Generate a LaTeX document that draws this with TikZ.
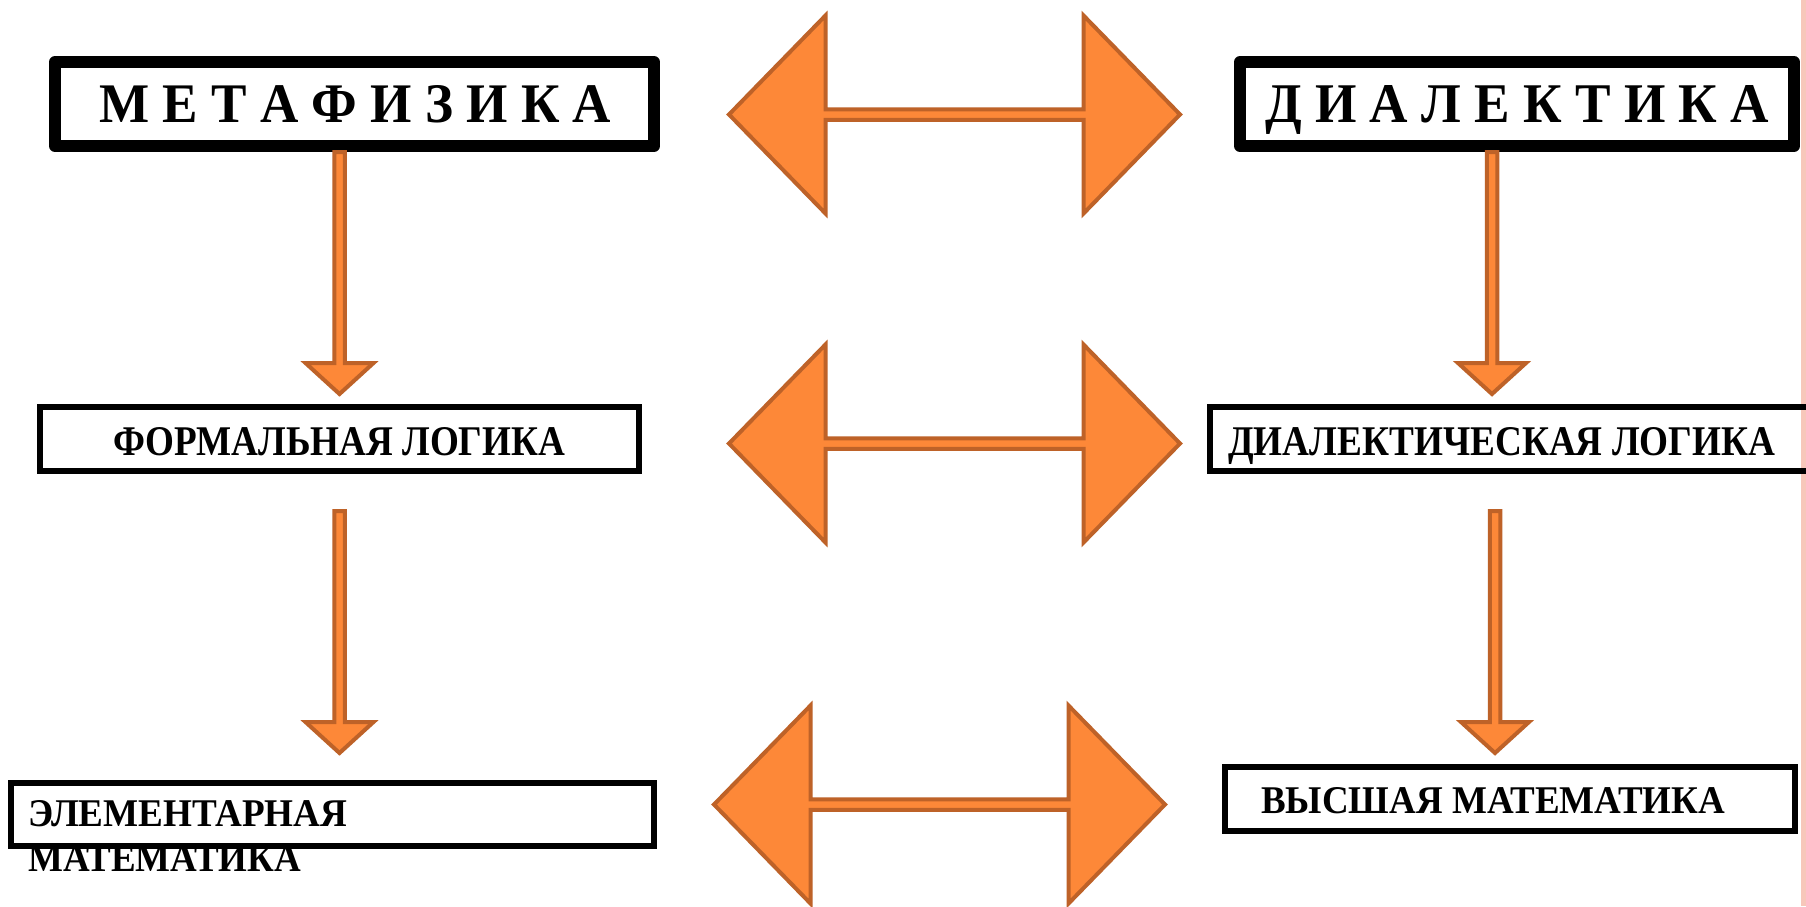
\documentclass[tikz,border=0pt]{standalone}
\usepackage{fontspec}
\setmainfont{Liberation Serif}
\usepackage{graphicx}
\usetikzlibrary{calc}
\definecolor{arrfill}{RGB}{253,136,56}
\definecolor{arrline}{RGB}{190,98,40}
\definecolor{edgepink}{RGB}{247,199,186}
\newcommand\fittext[3]{\resizebox{#1pt}{#2pt}{\bfseries #3}}
\tikzset{
  blk/.style={fill=arrfill, draw=arrline, line width=4pt, line join=miter},
  bigbox/.style={draw=black, line width=12pt, line join=round, inner sep=0pt, minimum height=84pt},
  smallbox/.style={draw=black, line width=6pt, inner sep=0pt, minimum height=64pt},
  txt/.style={inner sep=0pt, anchor=base west},
}
% vertical block arrow: #1 start (top of shaft), #2 tip
\newcommand\downarr[2]{%
  \draw[blk] let \p1=#1, \p2=#2 in
    (\x1-5.25pt,\y1) -- (\x1+5.25pt,\y1) -- (\x1+5.25pt,\y2+31pt) --
    (\x1+34pt,\y2+31pt) -- (\x1,\y2) -- (\x1-34pt,\y2+31pt) --
    (\x1-5.25pt,\y2+31pt) -- cycle;}
% horizontal double block arrow around centre #1
\newcommand\dblarr[1]{%
  \draw[blk] let \p1=(#1) in
    (\x1-225.5pt,\y1) -- (\x1-129pt,\y1+99pt) -- (\x1-129pt,\y1+5.25pt) --
    (\x1+129pt,\y1+5.25pt) -- (\x1+129pt,\y1+99pt) -- (\x1+225.5pt,\y1) --
    (\x1+129pt,\y1-99pt) -- (\x1+129pt,\y1-5.25pt) -- (\x1-129pt,\y1-5.25pt) --
    (\x1-129pt,\y1-99pt) -- cycle;}
\begin{document}
\begin{tikzpicture}[x=1pt,y=-1pt]
\useasboundingbox (0,0) rectangle (1806,906);
\fill[white] (0,0) rectangle (1806,906);
\fill[edgepink] (1801,0) rectangle (1806,906);

% texts
\node[txt] (t1) at (99,122) {\fittext{512}{37}{М Е Т А Ф И З И К А}};
\node[txt] (t2) at (1265,122) {\fittext{504}{37}{Д И А Л Е К Т И К А}};
\node[txt] (t3) at (113,455) {\fittext{452}{28}{ФОРМАЛЬНАЯ ЛОГИКА}};
\node[txt] (t4) at (1228,455) {\fittext{547}{28}{ДИАЛЕКТИЧЕСКАЯ ЛОГИКА}};
\node[txt] (t5) at (28,826) {\fittext{319}{26}{ЭЛЕМЕНТАРНАЯ}};
\node[txt] (t6) at (28,871) {\fittext{273}{26}{МАТЕМАТИКА}};
\node[txt] (t7) at (1261,813) {\fittext{464}{26}{ВЫСШАЯ МАТЕМАТИКА}};

% boxes
\node[bigbox, minimum width=599pt] (m1) at (354.5,104) {};
\node[bigbox, minimum width=554pt] (d1) at (1517,104) {};
\node[smallbox, minimum width=599pt] (f1) at (339.5,439) {};
\node[smallbox, minimum width=602pt] (dl) at (1511,439) {};
\node[smallbox, minimum width=643pt, minimum height=63pt] (e1) at (332.5,814.5) {};
\node[smallbox, minimum width=570pt] (v1) at (1510,799) {};

% columns of the vertical arrows
\coordinate (cL) at (339.5,0);
\coordinate (cR1) at (1492,0);
\coordinate (cR2) at (1495,0);

\downarr{(m1.south -| cL)}{($(f1.north -| cL)+(0,-10)$)}
\downarr{($(f1.south -| cL)+(0,37)$)}{($(e1.north -| cL)+(0,-27)$)}
\downarr{(d1.south -| cR1)}{($(dl.north -| cR1)+(0,-10)$)}
\downarr{($(dl.south -| cR2)+(0,37)$)}{($(v1.north -| cR2)+(0,-11)$)}

% double arrows between the columns
\coordinate (h1) at (954.5,114.5);
\coordinate (h2) at (954.5,443.5);
\coordinate (h3) at (939.5,804.5);
\dblarr{h1}
\dblarr{h2}
\dblarr{h3}
\end{tikzpicture}
\end{document}
